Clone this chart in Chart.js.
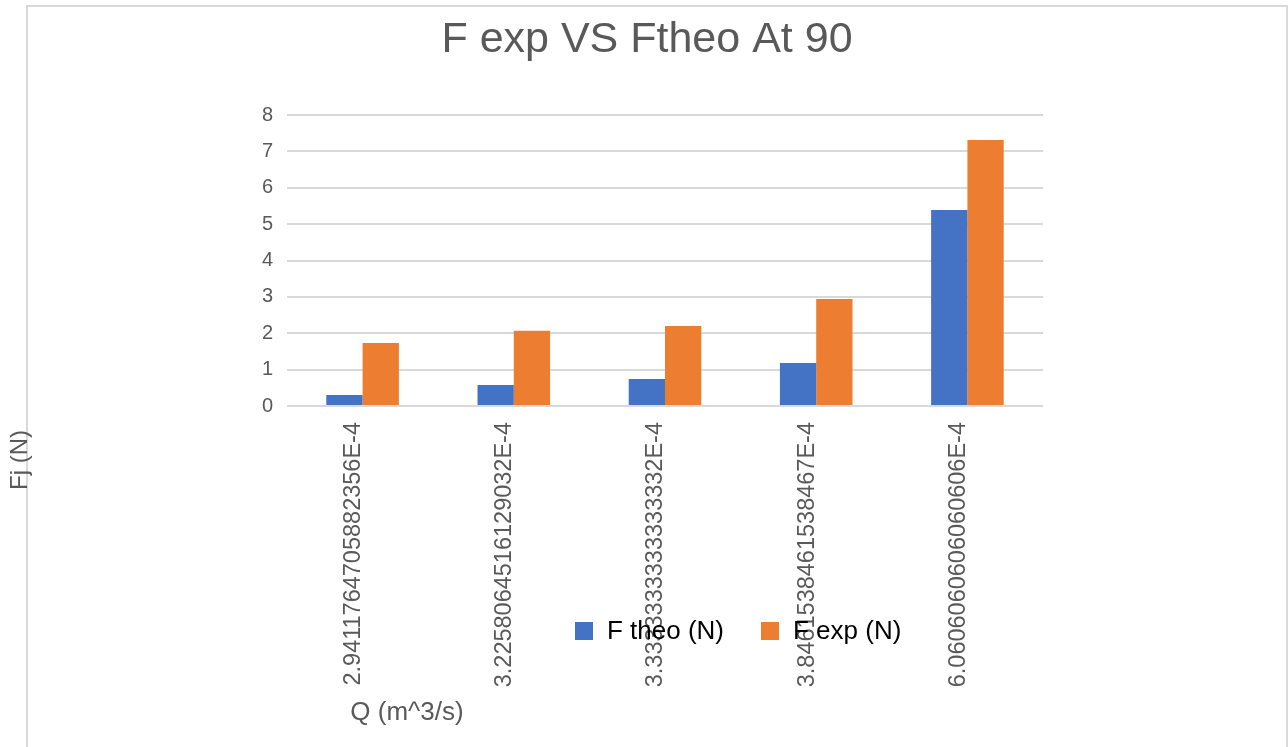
<!DOCTYPE html>
<html lang="en">
<head>
<meta charset="UTF-8">
<title>F exp VS Ftheo At 90</title>
<script src="https://cdn.jsdelivr.net/npm/chart.js"></script>
<style>
  body { margin: 0; background: #fff; }
  #wrap { position: relative; width: 1288px; height: 747px; overflow: hidden; }
  #frame { position: absolute; left: 26px; top: 5px; width: 1258px; height: 800px;
           border: 2px solid #d9d9d9; }
  #c { position: absolute; left: 0; top: 0; }
</style>
</head>
<body>
<div id="wrap">
  <div id="frame"></div>
  <canvas id="c" width="1288" height="747"></canvas>
</div>

<script>
// data
const categories = ['2.9411764705882356E-4', '3.2258064516129032E-4', '3.3333333333333332E-4',
                    '3.8461538461538467E-4', '6.0606060606060606E-4'];
const fTheo = [0.30, 0.58, 0.74, 1.18, 5.39];
const fExp  = [1.73, 2.07, 2.20, 2.94, 7.31];
const seriesNames = ['F theo (N)', 'F exp (N)'];
const titleText = 'F exp VS Ftheo At 90';
const xTitle = 'Q (m^3/s)';
const yTitle = 'Fj (N)';

const BLUE = '#4472C4', ORANGE = '#ED7D31', GREY = '#595959';
const FONT = '"Liberation Sans", Arial, Helvetica, sans-serif';

// title, legend and axis titles are drawn by hand,
// Excel centred the title on the whole frame and put the legend on top of the tick labels
const extras = {
  id: 'extras',
  afterDraw(chart) {
    const c = chart.ctx, area = chart.chartArea;
    c.save();
    // title
    c.fillStyle = GREY;
    c.font = '43px ' + FONT;
    c.textAlign = 'center';
    c.textBaseline = 'middle';
    c.fillText(titleText, 647, 40);
    // legend
    c.font = '26px ' + FONT;
    c.textAlign = 'left';
    let x = 575;
    const y = 631;
    chart.data.datasets.forEach(ds => {
      c.fillStyle = ds.backgroundColor;
      c.fillRect(x, y - 9, 18, 18);
      c.fillStyle = '#000';
      c.fillText(ds.label, x + 32, y + 1);
      x += 186;
    });
    // x title
    c.fillStyle = GREY;
    c.font = '26px ' + FONT;
    c.textAlign = 'center';
    c.fillText(xTitle, area.left + 120, 713);
    // y title
    c.translate(20, 460);
    c.rotate(-Math.PI / 2);
    c.font = '24px ' + FONT;
    c.fillText(yTitle, 0, 0);
    c.restore();
  }
};

new Chart(document.getElementById('c'), {
  type: 'bar',
  data: {
    labels: categories,
    datasets: [
      { label: seriesNames[0], data: fTheo, backgroundColor: BLUE },
      { label: seriesNames[1], data: fExp, backgroundColor: ORANGE }
    ]
  },
  options: {
    responsive: false,
    animation: false,
    layout: { padding: { left: 0, right: 245, top: 115, bottom: 0 } },
    datasets: { bar: { categoryPercentage: 0.48, barPercentage: 1.0 } },
    scales: {
      x: {
        grid: { display: false },
        border: { display: false },
        ticks: {
          autoSkip: false, minRotation: 90, maxRotation: 90,
          padding: 8, labelOffset: -9,
          color: GREY, font: { family: FONT, size: 23.5 }
        },
        afterFit: s => { s.height = 341; }
      },
      y: {
        min: 0, max: 8,
        grid: { color: '#d9d9d9', lineWidth: 2, drawTicks: false },
        border: { display: false },
        ticks: { stepSize: 1, padding: 14, color: GREY, font: { family: FONT, size: 20 } },
        afterFit: s => { s.width = 287; }
      }
    },
    plugins: {
      legend: { display: false },
      tooltip: { enabled: false },
      title: { display: false }
    }
  },
  plugins: [extras]
});
</script>
</body>
</html>
